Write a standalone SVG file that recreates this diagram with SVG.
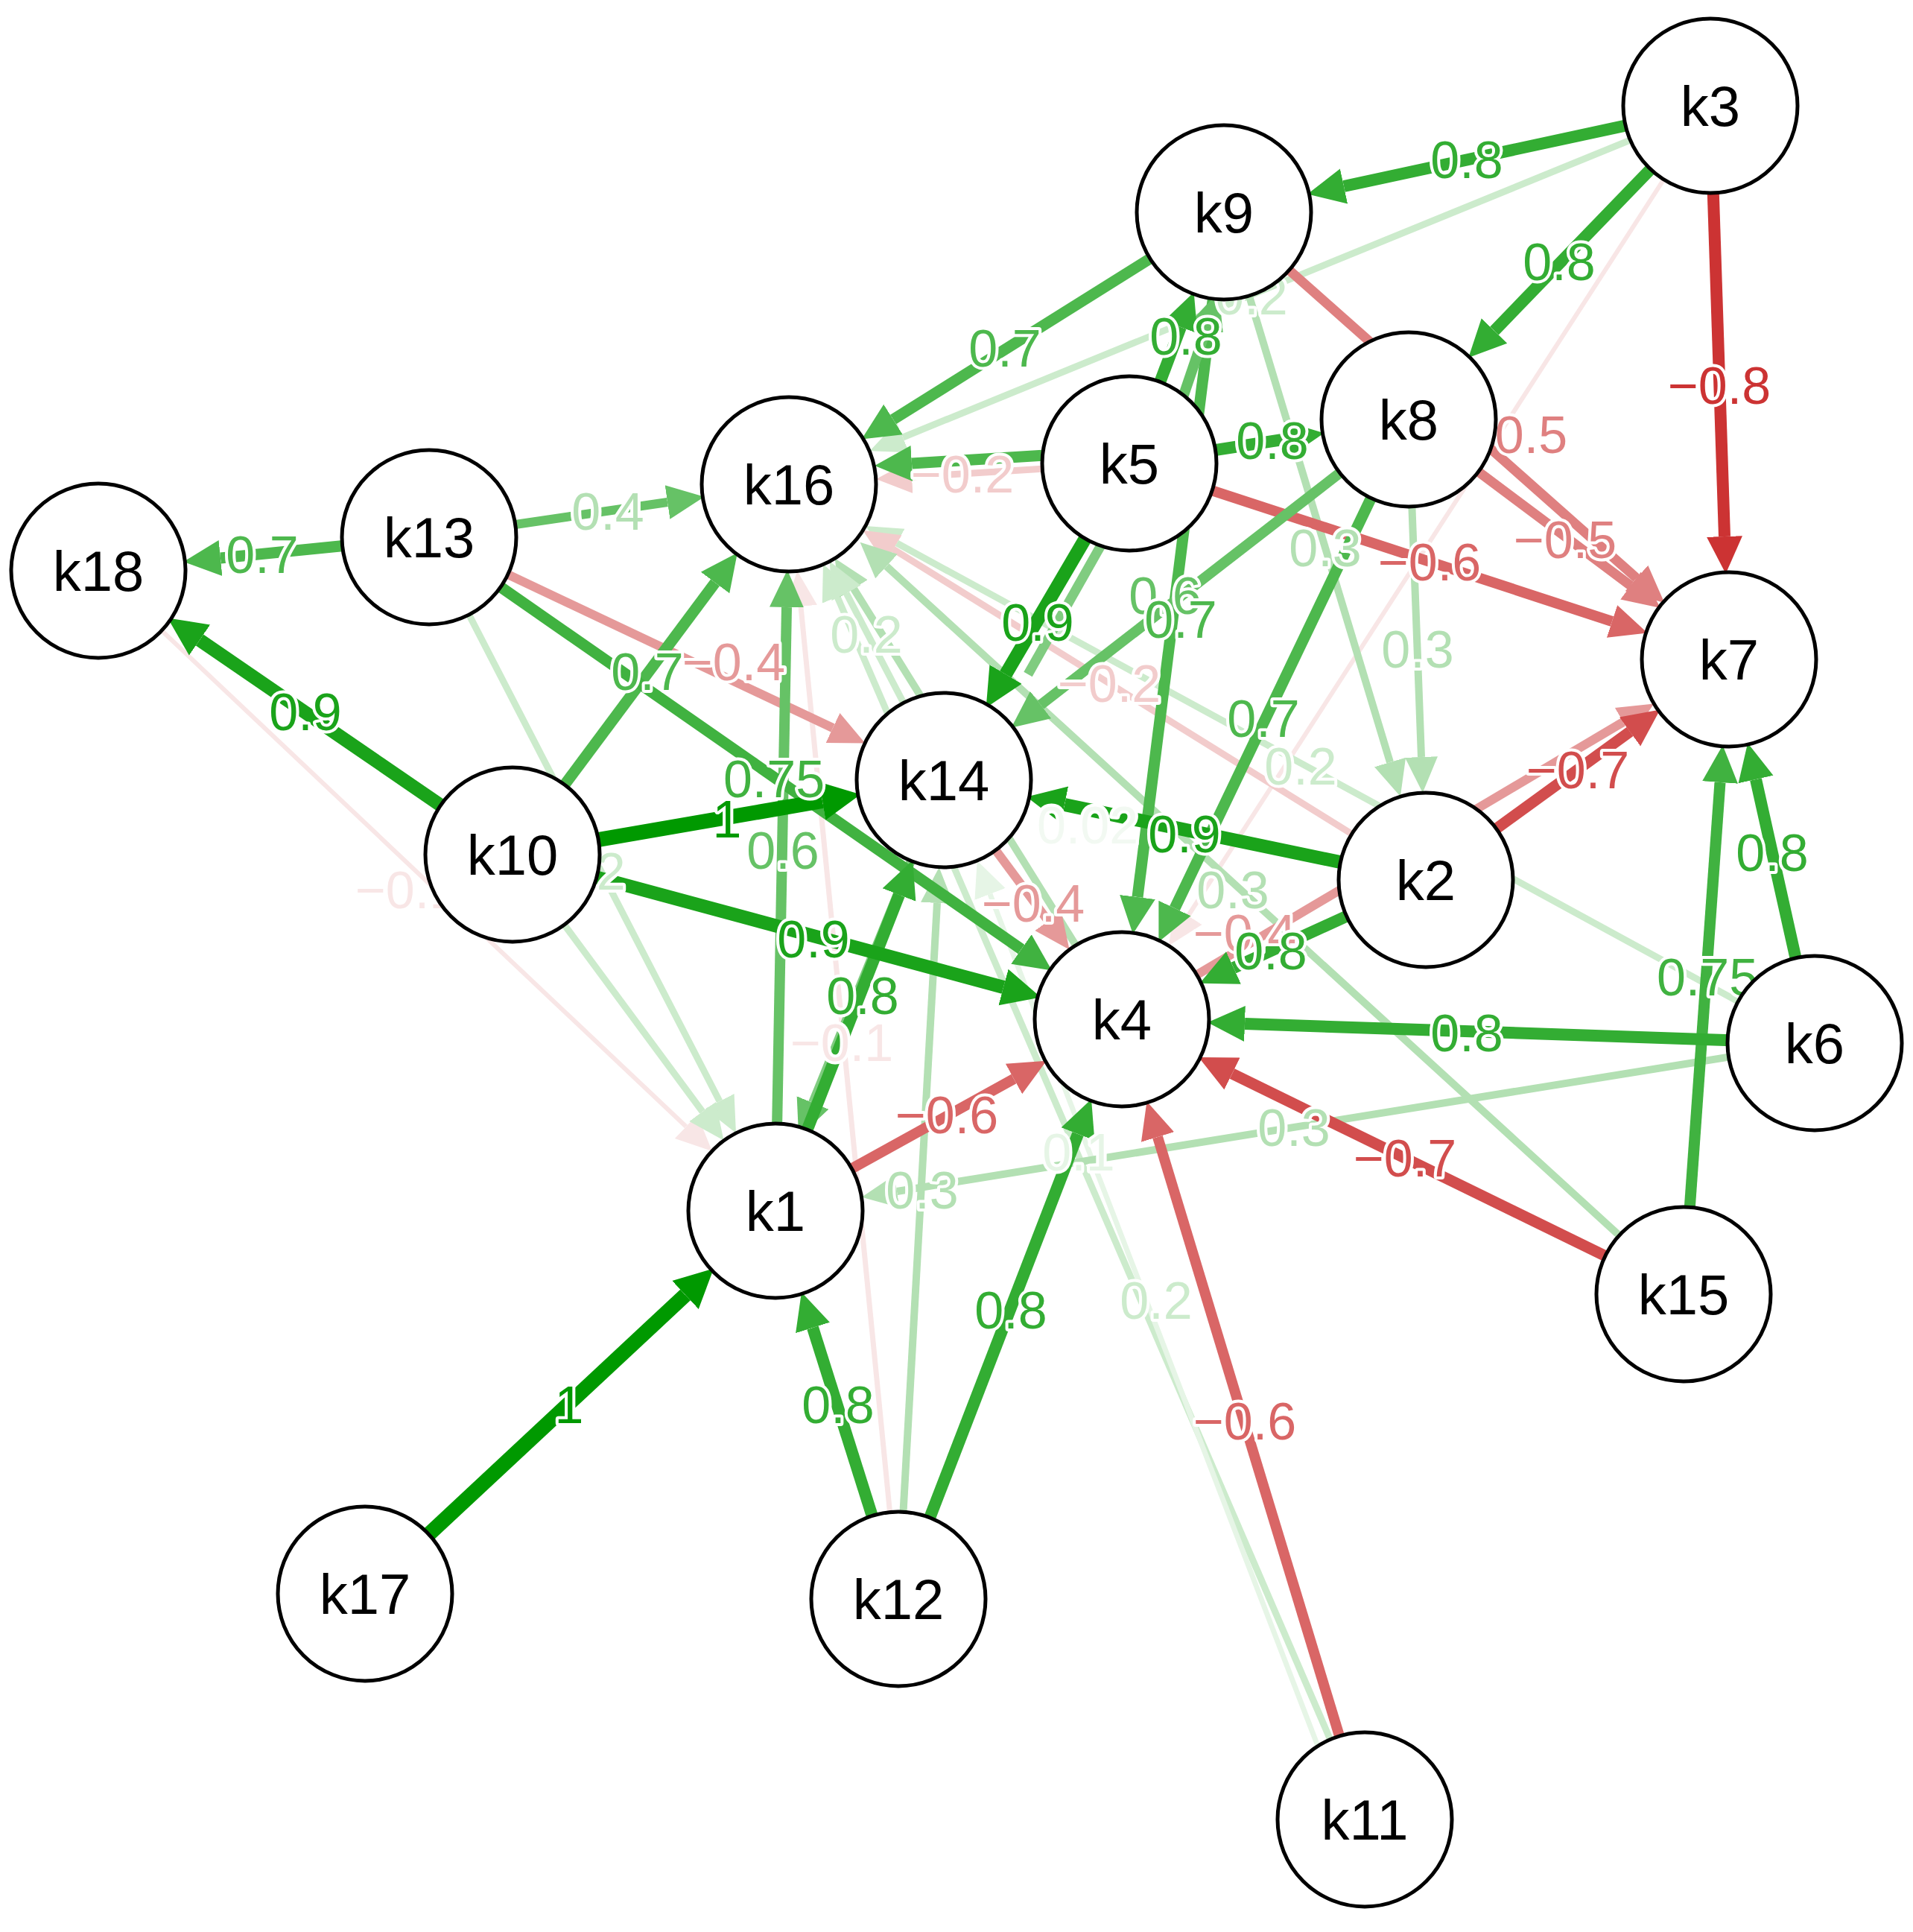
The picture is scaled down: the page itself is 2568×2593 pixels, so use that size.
<svg xmlns="http://www.w3.org/2000/svg" width="2568" height="2593" viewBox="0 0 2568 2593">
<style>
.n circle{fill:#fff;stroke:#000;stroke-width:5}
.n text{font-family:"Liberation Sans",Arial,sans-serif;font-size:76px;text-anchor:middle;dominant-baseline:central;fill:#000}
.e line{fill:none}
.l text{font-family:"Liberation Sans",Arial,sans-serif;font-size:70px;text-anchor:middle;dominant-baseline:central;stroke:#fff;stroke-width:8;paint-order:stroke;stroke-linejoin:round}
</style>
<defs>
<marker id="g10" markerUnits="userSpaceOnUse" markerWidth="70" markerHeight="70" refX="0" refY="35" orient="auto"><path d="M0,9 L52,35 L0,61 z" fill="#009900"/></marker>
<marker id="g9" markerUnits="userSpaceOnUse" markerWidth="70" markerHeight="70" refX="0" refY="35" orient="auto"><path d="M0,10 L52,35 L0,60 z" fill="#1aa31a"/></marker>
<marker id="g8" markerUnits="userSpaceOnUse" markerWidth="70" markerHeight="70" refX="0" refY="35" orient="auto"><path d="M0,11 L50,35 L0,59 z" fill="#33ad33"/></marker>
<marker id="g75" markerUnits="userSpaceOnUse" markerWidth="70" markerHeight="70" refX="0" refY="35" orient="auto"><path d="M0,11 L50,35 L0,59 z" fill="#40b240"/></marker>
<marker id="g7" markerUnits="userSpaceOnUse" markerWidth="70" markerHeight="70" refX="0" refY="35" orient="auto"><path d="M0,11 L50,35 L0,59 z" fill="#4db84d"/></marker>
<marker id="g6" markerUnits="userSpaceOnUse" markerWidth="70" markerHeight="70" refX="0" refY="35" orient="auto"><path d="M0,12 L50,35 L0,58 z" fill="#66c266"/></marker>
<marker id="g3" markerUnits="userSpaceOnUse" markerWidth="70" markerHeight="70" refX="0" refY="35" orient="auto"><path d="M0,13 L48,35 L0,57 z" fill="#b3e0b3"/></marker>
<marker id="g2" markerUnits="userSpaceOnUse" markerWidth="70" markerHeight="70" refX="0" refY="35" orient="auto"><path d="M0,13 L48,35 L0,57 z" fill="#ccebcc"/></marker>
<marker id="g1" markerUnits="userSpaceOnUse" markerWidth="70" markerHeight="70" refX="0" refY="35" orient="auto"><path d="M0,13 L48,35 L0,57 z" fill="#e6f5e6"/></marker>
<marker id="r8" markerUnits="userSpaceOnUse" markerWidth="70" markerHeight="70" refX="0" refY="35" orient="auto"><path d="M0,11 L50,35 L0,59 z" fill="#cc3333"/></marker>
<marker id="r7" markerUnits="userSpaceOnUse" markerWidth="70" markerHeight="70" refX="0" refY="35" orient="auto"><path d="M0,11 L50,35 L0,59 z" fill="#d24d4d"/></marker>
<marker id="r6" markerUnits="userSpaceOnUse" markerWidth="70" markerHeight="70" refX="0" refY="35" orient="auto"><path d="M0,12 L50,35 L0,58 z" fill="#d96666"/></marker>
<marker id="r5" markerUnits="userSpaceOnUse" markerWidth="70" markerHeight="70" refX="0" refY="35" orient="auto"><path d="M0,12 L50,35 L0,58 z" fill="#df8080"/></marker>
<marker id="r4" markerUnits="userSpaceOnUse" markerWidth="70" markerHeight="70" refX="0" refY="35" orient="auto"><path d="M0,13 L48,35 L0,57 z" fill="#e59999"/></marker>
<marker id="r2" markerUnits="userSpaceOnUse" markerWidth="70" markerHeight="70" refX="0" refY="35" orient="auto"><path d="M0,13 L48,35 L0,57 z" fill="#f2cccc"/></marker>
<marker id="r1" markerUnits="userSpaceOnUse" markerWidth="70" markerHeight="70" refX="0" refY="35" orient="auto"><path d="M0,13 L48,35 L0,57 z" fill="#f8e6e6"/></marker>
</defs>
<g id="connectors" class="e">
<line x1="1832" y1="2442" x2="1124" y2="801" stroke="#ccebcc" stroke-width="9" marker-end="url(#g2)"/>
<line x1="1810" y1="2450" x2="1329" y2="1200" stroke="#e6f5e6" stroke-width="7" marker-end="url(#g1)"/>
<line x1="132" y1="766" x2="921" y2="1512" stroke="#f8e6e6" stroke-width="6" marker-end="url(#r1)"/>
<line x1="2296" y1="144" x2="1595" y2="1229" stroke="#f8e6e6" stroke-width="6" marker-end="url(#r1)"/>
<line x1="1206" y1="2146" x2="1075" y2="814" stroke="#f8e6e6" stroke-width="7" marker-end="url(#r1)"/>
<line x1="2296" y1="144" x2="1212" y2="587" stroke="#ccebcc" stroke-width="9" marker-end="url(#g2)"/>
<line x1="2436" y1="1400" x2="1204" y2="729" stroke="#ccebcc" stroke-width="9" marker-end="url(#g2)"/>
<line x1="1914" y1="1181" x2="1199" y2="737" stroke="#f2cccc" stroke-width="9" marker-end="url(#r2)"/>
<line x1="2260" y1="1737" x2="1190" y2="760" stroke="#b3e0b3" stroke-width="10" marker-end="url(#g3)"/>
<line x1="1506" y1="1368" x2="1146" y2="790" stroke="#b3e0b3" stroke-width="10" marker-end="url(#g3)"/>
<line x1="1267" y1="1047" x2="1136" y2="796" stroke="#ccebcc" stroke-width="9" marker-end="url(#g2)"/>
<line x1="576" y1="721" x2="966" y2="1478" stroke="#ccebcc" stroke-width="9" marker-end="url(#g2)"/>
<line x1="688" y1="1147" x2="943" y2="1492" stroke="#ccebcc" stroke-width="9" marker-end="url(#g2)"/>
<line x1="1206" y1="2146" x2="1258" y2="1212" stroke="#b3e0b3" stroke-width="10" marker-end="url(#g3)"/>
<line x1="2436" y1="1400" x2="1204" y2="1599" stroke="#b3e0b3" stroke-width="10" marker-end="url(#g3)"/>
<line x1="1891" y1="563" x2="1908" y2="1016" stroke="#b3e0b3" stroke-width="10" marker-end="url(#g3)"/>
<line x1="1643" y1="285" x2="1866" y2="1023" stroke="#b3e0b3" stroke-width="10" marker-end="url(#g3)"/>
<line x1="1516" y1="622" x2="1224" y2="640" stroke="#f2cccc" stroke-width="9" marker-end="url(#r2)"/>
<line x1="1516" y1="604" x2="1224" y2="622" stroke="#4db84d" stroke-width="15" marker-end="url(#g7)"/>
<line x1="576" y1="721" x2="896" y2="674" stroke="#66c266" stroke-width="12" marker-end="url(#g6)"/>
<line x1="576" y1="721" x2="1118" y2="977" stroke="#e59999" stroke-width="12" marker-end="url(#r4)"/>
<line x1="1267" y1="1047" x2="1407" y2="1236" stroke="#e59999" stroke-width="12" marker-end="url(#r4)"/>
<line x1="1506" y1="1368" x2="2179" y2="969" stroke="#e59999" stroke-width="12" marker-end="url(#r4)"/>
<line x1="1643" y1="285" x2="2197" y2="776" stroke="#df8080" stroke-width="13" marker-end="url(#r5)"/>
<line x1="1891" y1="563" x2="2189" y2="786" stroke="#df8080" stroke-width="13" marker-end="url(#r5)"/>
<line x1="1516" y1="622" x2="2164" y2="834" stroke="#d96666" stroke-width="14" marker-end="url(#r6)"/>
<line x1="1041" y1="1625" x2="1361" y2="1448" stroke="#d96666" stroke-width="14" marker-end="url(#r6)"/>
<line x1="1832" y1="2442" x2="1554" y2="1526" stroke="#d96666" stroke-width="14" marker-end="url(#r6)"/>
<line x1="2260" y1="1737" x2="1654" y2="1441" stroke="#d24d4d" stroke-width="15" marker-end="url(#r7)"/>
<line x1="1914" y1="1181" x2="2188" y2="982" stroke="#d24d4d" stroke-width="15" marker-end="url(#r7)"/>
<line x1="2296" y1="144" x2="2315" y2="720" stroke="#cc3333" stroke-width="16" marker-end="url(#r8)"/>
<line x1="1643" y1="285" x2="1199" y2="563" stroke="#4db84d" stroke-width="15" marker-end="url(#g7)"/>
<line x1="688" y1="1147" x2="960" y2="782" stroke="#4db84d" stroke-width="15" marker-end="url(#g7)"/>
<line x1="1643" y1="285" x2="1527" y2="1204" stroke="#4db84d" stroke-width="15" marker-end="url(#g7)"/>
<line x1="1891" y1="563" x2="1577" y2="1219" stroke="#4db84d" stroke-width="15" marker-end="url(#g7)"/>
<line x1="1891" y1="563" x2="1397" y2="946" stroke="#66c266" stroke-width="14" marker-end="url(#g6)"/>
<line x1="1041" y1="1625" x2="1056" y2="815" stroke="#66c266" stroke-width="14" marker-end="url(#g6)"/>
<line x1="1267" y1="1047" x2="1091" y2="1480" stroke="#80cc80" stroke-width="12" marker-end="url(#g6)"/>
<line x1="1555" y1="630" x2="1620" y2="439" stroke="#66c266" stroke-width="14" marker-end="url(#g6)"/>
<line x1="1530" y1="640" x2="1380" y2="905" stroke="#80cc80" stroke-width="13"/>
<line x1="576" y1="721" x2="296" y2="749" stroke="#4db84d" stroke-width="15" marker-end="url(#g7)"/>
<line x1="576" y1="721" x2="1371" y2="1274" stroke="#40b240" stroke-width="15" marker-end="url(#g75)"/>
<line x1="2260" y1="1737" x2="2309" y2="1050" stroke="#40b240" stroke-width="15" marker-end="url(#g75)"/>
<line x1="2296" y1="144" x2="1804" y2="250" stroke="#33ad33" stroke-width="16" marker-end="url(#g8)"/>
<line x1="2296" y1="144" x2="2006" y2="444" stroke="#33ad33" stroke-width="16" marker-end="url(#g8)"/>
<line x1="1516" y1="622" x2="1585" y2="439" stroke="#33ad33" stroke-width="16" marker-end="url(#g8)"/>
<line x1="1516" y1="622" x2="1728" y2="589" stroke="#33ad33" stroke-width="16" marker-end="url(#g8)"/>
<line x1="1041" y1="1625" x2="1207" y2="1201" stroke="#33ad33" stroke-width="16" marker-end="url(#g8)"/>
<line x1="1206" y1="2146" x2="1091" y2="1782" stroke="#33ad33" stroke-width="16" marker-end="url(#g8)"/>
<line x1="1206" y1="2146" x2="1447" y2="1522" stroke="#33ad33" stroke-width="16" marker-end="url(#g8)"/>
<line x1="1914" y1="1181" x2="1656" y2="1299" stroke="#33ad33" stroke-width="16" marker-end="url(#g8)"/>
<line x1="2436" y1="1400" x2="2357" y2="1046" stroke="#33ad33" stroke-width="16" marker-end="url(#g8)"/>
<line x1="2436" y1="1400" x2="1671" y2="1374" stroke="#33ad33" stroke-width="16" marker-end="url(#g8)"/>
<line x1="1516" y1="622" x2="1350" y2="905" stroke="#1aa31a" stroke-width="18" marker-end="url(#g9)"/>
<line x1="688" y1="1147" x2="268" y2="859" stroke="#1aa31a" stroke-width="18" marker-end="url(#g9)"/>
<line x1="688" y1="1147" x2="1347" y2="1325" stroke="#1aa31a" stroke-width="18" marker-end="url(#g9)"/>
<line x1="1914" y1="1181" x2="1429" y2="1080" stroke="#1aa31a" stroke-width="18" marker-end="url(#g9)"/>
<line x1="688" y1="1147" x2="1104" y2="1075" stroke="#009900" stroke-width="20" marker-end="url(#g10)"/>
<line x1="490" y1="2139" x2="920" y2="1738" stroke="#009900" stroke-width="20" marker-end="url(#g10)"/>
</g>
<g id="labels" class="l">
<text x="1969" y="215" fill="#33ad33">0.8</text>
<text x="1680" y="398" fill="#ccebcc">0.2</text>
<text x="2093" y="352" fill="#33ad33">0.8</text>
<text x="2308" y="518" fill="#cc3333">−0.8</text>
<text x="1349" y="468" fill="#4db84d">0.7</text>
<text x="2035" y="584" fill="#df8080">−0.5</text>
<text x="1592" y="452" fill="#33ad33">0.8</text>
<text x="1708" y="592" fill="#33ad33">0.8</text>
<text x="1292" y="637" fill="#f2cccc">−0.2</text>
<text x="1919" y="755" fill="#d96666">−0.6</text>
<text x="2101" y="725" fill="#df8080">−0.5</text>
<text x="1779" y="736" fill="#b3e0b3">0.3</text>
<text x="1903" y="872" fill="#b3e0b3">0.3</text>
<text x="1564" y="800" fill="#66c266">0.6</text>
<text x="1585" y="832" fill="#4db84d">0.7</text>
<text x="1393" y="836" fill="#1aa31a">0.9</text>
<text x="1489" y="918" fill="#f2cccc">−0.2</text>
<text x="1696" y="965" fill="#4db84d">0.7</text>
<text x="1746" y="1029" fill="#ccebcc">0.2</text>
<text x="1460" y="1108" fill="#f2f9f2">0.02</text>
<text x="352" y="745" fill="#4db84d">0.7</text>
<text x="816" y="687" fill="#b3e0b3">0.4</text>
<text x="985" y="889" fill="#e59999">−0.4</text>
<text x="869" y="902" fill="#4db84d">0.7</text>
<text x="1163" y="852" fill="#ccebcc">0.2</text>
<text x="1039" y="1046" fill="#40b240">0.75</text>
<text x="410" y="956" fill="#1aa31a">0.9</text>
<text x="976" y="1100" fill="#009900">1</text>
<text x="1051" y="1142" fill="#66c266">0.6</text>
<text x="791" y="1170" fill="#ccebcc">0.2</text>
<text x="546" y="1195" fill="#f8e6e6">−0.1</text>
<text x="1590" y="1120" fill="#1aa31a">0.9</text>
<text x="2118" y="1034" fill="#d24d4d">−0.7</text>
<text x="2379" y="1145" fill="#33ad33">0.8</text>
<text x="1655" y="1195" fill="#b3e0b3">0.3</text>
<text x="1387" y="1213" fill="#e59999">−0.4</text>
<text x="1671" y="1253" fill="#e59999">−0.4</text>
<text x="1092" y="1261" fill="#1aa31a">0.9</text>
<text x="1706" y="1277" fill="#33ad33">0.8</text>
<text x="2292" y="1312" fill="#40b240">0.75</text>
<text x="1158" y="1337" fill="#33ad33">0.8</text>
<text x="1969" y="1387" fill="#33ad33">0.8</text>
<text x="1130" y="1400" fill="#f8e6e6">−0.1</text>
<text x="1271" y="1497" fill="#d96666">−0.6</text>
<text x="1737" y="1514" fill="#b3e0b3">0.3</text>
<text x="1448" y="1547" fill="#e6f5e6">0.1</text>
<text x="1886" y="1555" fill="#d24d4d">−0.7</text>
<text x="1238" y="1598" fill="#b3e0b3">0.3</text>
<text x="1552" y="1746" fill="#ccebcc">0.2</text>
<text x="1357" y="1759" fill="#33ad33">0.8</text>
<text x="1125" y="1886" fill="#33ad33">0.8</text>
<text x="764" y="1886" fill="#009900">1</text>
<text x="1671" y="1908" fill="#d96666">−0.6</text>
</g>
<g id="k3" class="n"><circle cx="2296" cy="142" r="117"/><text x="2296" y="142">k3</text></g>
<g id="k9" class="n"><circle cx="1643" cy="285" r="117"/><text x="1643" y="285">k9</text></g>
<g id="k8" class="n"><circle cx="1891" cy="563" r="117"/><text x="1891" y="563">k8</text></g>
<g id="k5" class="n"><circle cx="1516" cy="622" r="117"/><text x="1516" y="622">k5</text></g>
<g id="k16" class="n"><circle cx="1059" cy="650" r="117"/><text x="1059" y="650">k16</text></g>
<g id="k13" class="n"><circle cx="576" cy="721" r="117"/><text x="576" y="721">k13</text></g>
<g id="k18" class="n"><circle cx="132" cy="766" r="117"/><text x="132" y="766">k18</text></g>
<g id="k7" class="n"><circle cx="2321" cy="885" r="117"/><text x="2321" y="885">k7</text></g>
<g id="k14" class="n"><circle cx="1267" cy="1047" r="117"/><text x="1267" y="1047">k14</text></g>
<g id="k10" class="n"><circle cx="688" cy="1147" r="117"/><text x="688" y="1147">k10</text></g>
<g id="k2" class="n"><circle cx="1914" cy="1181" r="117"/><text x="1914" y="1181">k2</text></g>
<g id="k4" class="n"><circle cx="1506" cy="1368" r="117"/><text x="1506" y="1368">k4</text></g>
<g id="k6" class="n"><circle cx="2436" cy="1400" r="117"/><text x="2436" y="1400">k6</text></g>
<g id="k1" class="n"><circle cx="1041" cy="1625" r="117"/><text x="1041" y="1625">k1</text></g>
<g id="k15" class="n"><circle cx="2260" cy="1737" r="117"/><text x="2260" y="1737">k15</text></g>
<g id="k17" class="n"><circle cx="490" cy="2139" r="117"/><text x="490" y="2139">k17</text></g>
<g id="k12" class="n"><circle cx="1206" cy="2146" r="117"/><text x="1206" y="2146">k12</text></g>
<g id="k11" class="n"><circle cx="1832" cy="2442" r="117"/><text x="1832" y="2442">k11</text></g>
</svg>
